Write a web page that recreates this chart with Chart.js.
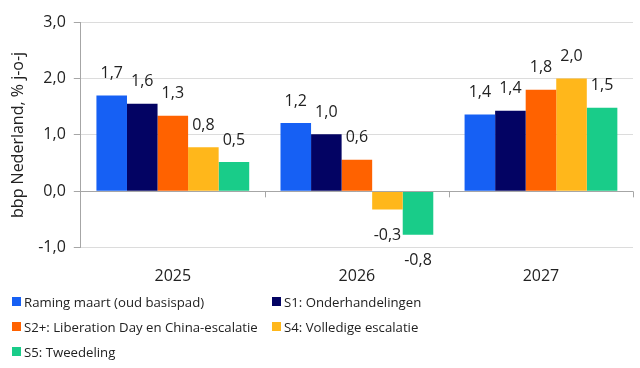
<!DOCTYPE html>
<html>
<head>
<meta charset="utf-8">
<script src="https://cdn.jsdelivr.net/npm/chart.js@4/dist/chart.umd.min.js"></script>
<style>
  body { margin: 0; background: #fff; font-family: 'Open Sans', sans-serif; }
  #wrap { position: relative; width: 640px; height: 368px; }
  #box { position: absolute; left: 0; top: 0; width: 640px; height: 302px; }
  #legend { position: absolute; left: 12px; top: 292px; width: 620px;
            display: grid; grid-template-columns: 260px 360px; row-gap: 6px;
            font-size: 13.2px; color: #222; }
  .item { display: flex; align-items: center; height: 19px; white-space: nowrap; }
  .sw { width: 9px; height: 9px; margin-right: 3px; flex: none; }
</style>
</head>
<body>
<div id="wrap">
  <div id="box"><canvas id="grafiek"></canvas></div>
  <div id="legend"></div>
</div>
<script>
const jaren = ['2025', '2026', '2027'];
const seriesNamen = [
  'Raming maart (oud basispad)',
  'S1: Onderhandelingen',
  'S2+: Liberation Day en China-escalatie',
  'S4: Volledige escalatie',
  'S5: Tweedeling'
];
const raming = [1.70, 1.21, 1.36];
const s1 = [1.55, 1.01, 1.43];
const s2 = [1.34, 0.56, 1.80];
const s4 = [0.78, -0.32, 2.00];
const s5 = [0.52, -0.77, 1.48];
const kleuren = ['#1660f4', '#030363', '#ff6200', '#ffb71b', '#19cc89'];
const yTicks = [-1, 0, 1, 2, 3];

const waarden = [raming, s1, s2, s4, s5];
const fmt = v => (Math.round(v * 10) / 10).toFixed(1).replace('.', ',');

// legend in twee kolommen
const leg = document.getElementById('legend');
seriesNamen.forEach((naam, i) => {
  const d = document.createElement('div');
  d.className = 'item';
  d.innerHTML = '<span class="sw" style="background:' + kleuren[i] + '"></span>' + naam;
  leg.appendChild(d);
});

// labels boven/onder de staven
const labelPlugin = {
  id: 'labels',
  afterDatasetsDraw(chart) {
    const ctx = chart.ctx;
    ctx.save();
    ctx.font = '16px "Open Sans"';
    ctx.fillStyle = '#222';
    ctx.textAlign = 'center';
    ctx.textBaseline = 'middle';
    chart.data.datasets.forEach((ds, i) => {
      chart.getDatasetMeta(i).data.forEach((bar, j) => {
        const v = ds.data[j];
        const y = v >= 0 ? bar.y - 22 : bar.y + 26;
        ctx.fillText(fmt(v), bar.x, y);
      });
    });
    ctx.restore();
  }
};

// nul-lijn met streepjes tussen de categorieen
const nulLijn = {
  id: 'nulLijn',
  afterDatasetsDraw(chart) {
    const ctx = chart.ctx;
    const x = chart.scales.x, y = chart.scales.y;
    const y0 = y.getPixelForValue(0);
    const half = (x.getPixelForValue(1) - x.getPixelForValue(0)) / 2;
    ctx.save();
    ctx.strokeStyle = '#a6a6a6';
    ctx.lineWidth = 1;
    ctx.beginPath();
    ctx.moveTo(chart.chartArea.left, Math.round(y0) + 0.5);
    ctx.lineTo(chart.chartArea.right, Math.round(y0) + 0.5);
    jaren.forEach((j, i) => {
      const xp = Math.round(x.getPixelForValue(i) + half) + 0.5;
      ctx.moveTo(xp, y0);
      ctx.lineTo(xp, y0 + 6);
    });
    ctx.stroke();
    ctx.restore();
  }
};

new Chart(document.getElementById('grafiek'), {
  type: 'bar',
  data: {
    labels: jaren,
    datasets: seriesNamen.map((naam, i) => ({
      label: naam,
      data: waarden[i],
      backgroundColor: kleuren[i],
      borderWidth: 0,
      barPercentage: 1.0,
      categoryPercentage: 0.83
    }))
  },
  options: {
    responsive: true,
    maintainAspectRatio: false,
    animation: false,
    layout: { padding: { top: 22, right: 7, left: 9, bottom: 5 } },
    plugins: {
      legend: { display: false },
      tooltip: { enabled: false }
    },
    scales: {
      x: {
        grid: { display: false },
        border: { display: false },
        ticks: { color: '#222', font: { family: 'Open Sans', size: 16 }, padding: 11 }
      },
      y: {
        min: -1,
        max: 3,
        afterBuildTicks: axis => { axis.ticks = yTicks.map(v => ({ value: v })); },
        grid: { color: '#dcdcdc', tickLength: 7, tickColor: '#a6a6a6' },
        border: { color: '#a6a6a6' },
        ticks: {
          color: '#222',
          font: { family: 'Open Sans', size: 16 },
          padding: 8,
          callback: v => fmt(v)
        },
        title: {
          display: true,
          text: 'bbp Nederland, % j-o-j',
          color: '#222',
          font: { family: 'Open Sans', size: 16 },
          padding: { top: 0, bottom: 2 }
        }
      }
    }
  },
  plugins: [labelPlugin, nulLijn]
});
</script>
</body>
</html>
